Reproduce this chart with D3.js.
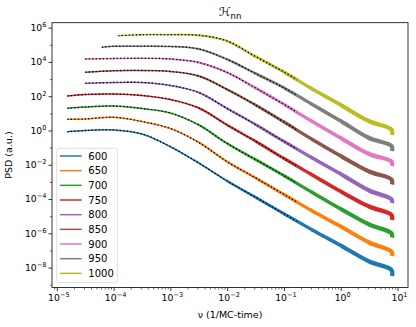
<!DOCTYPE html>
<html>
<head>
<meta charset="utf-8">
<script src="https://cdn.jsdelivr.net/npm/d3@7"></script>
<style>
body { margin: 0; background: #fff; }
text { font-family: "DejaVu Sans", sans-serif; }
</style>
</head>
<body>
<svg id="chart" width="416" height="327"></svg>
<script>
var temps = ['600', '650', '700', '750', '800', '850', '900', '950', '1000'];
var colors = ['#1f77b4', '#ff7f0e', '#2ca02c', '#d62728', '#9467bd', '#8c564b', '#e377c2', '#7f7f7f', '#bcbd22'];

// frequency grid (1/MC-time); each series starts at its own startNu, then follows the grid
var gridNu = [3.16e-5, 1e-4, 3.16e-4, 1e-3, 3.16e-3, 1e-2, 3.16e-2, 0.1, 0.316, 1, 3.16, 7.85, 8.0];
var startNu = [1.53e-5, 1.53e-5, 1.53e-5, 1.53e-5, 3.16e-5, 3.16e-5, 3.16e-5, 6.2e-5, 1.21e-4];
var fitEndNu = 0.167;

// log10 of PSD
var logPsd600  = [-0.069, 0.001, 0.030, -0.204, -0.944, -1.896, -2.946, -3.897, -4.860, -5.805, -6.709, -7.643, -8.139, -8.489];
var logPsd650  = [0.654, 0.672, 0.771, 0.526, 0.117, -0.694, -1.820, -2.765, -3.733, -4.696, -5.600, -6.534, -7.070, -7.321];
var logPsd700  = [1.296, 1.372, 1.430, 1.284, 1.022, 0.322, -0.758, -1.697, -2.636, -3.617, -4.579, -5.484, -5.997, -6.242];
var logPsd750  = [2.014, 2.101, 2.130, 2.043, 1.809, 1.313, 0.322, -0.629, -1.633, -2.596, -3.558, -4.434, -4.930, -5.221];
var logPsd800  = [2.754, 2.801, 2.801, 2.626, 2.218, 1.284, 0.351, -0.641, -1.604, -2.537, -3.500, -4.013, -4.229];
var logPsd850  = [3.396, 3.490, 3.501, 3.443, 3.180, 2.393, 1.488, 0.497, -0.524, -1.487, -2.392, -2.858, -3.150];
var logPsd900  = [4.172, 4.201, 4.213, 4.172, 3.968, 3.384, 2.480, 1.529, 0.526, -0.437, -1.370, -1.808, -2.070];
var logPsd950  = [4.855, 4.913, 4.919, 4.902, 4.756, 4.155, 3.326, 2.492, 1.518, 0.555, -0.437, -0.904, -1.195];
var logPsd1000 = [5.532, 5.590, 5.590, 5.555, 5.222, 4.312, 3.414, 2.422, 1.488, 0.537, 0.059, -0.262];
var allPsd = [logPsd600, logPsd650, logPsd700, logPsd750, logPsd800, logPsd850, logPsd900, logPsd950, logPsd1000];

var xTickExp = [-5, -4, -3, -2, -1, 0, 1];
var yTickExp = [-8, -6, -4, -2, 0, 2, 4, 6];

var L = 52, R = 408, T = 22.7, B = 287.5;
var svg = d3.select('#chart');

var x = d3.scaleLog().domain([Math.pow(10, -5.085), Math.pow(10, 1.185)]).range([L, R]);
var y = d3.scaleLog().domain([Math.pow(10, -9.16), Math.pow(10, 6.29)]).range([B, T]);

var series = allPsd.map(function (vals, i) {
  var nus = gridNu.filter(function (n) { return n > startNu[i]; });
  var pts = [[startNu[i], Math.pow(10, vals[0])]];
  nus.forEach(function (n, j) { pts.push([n, Math.pow(10, vals[j + 1])]); });
  return pts;
});

var line = d3.line()
  .x(function (d) { return x(d[0]); })
  .y(function (d) { return y(d[1]); })
  .curve(d3.curveCatmullRom.alpha(0.5));

// line gets thicker toward high frequency (dense noisy points)
var bands = [1e-6, 1e-3, 3e-3, 1e-2, 3e-2, 0.1, 0.3, 1, 3, 100];
var widths = [1.5, 1.7, 2.0, 2.4, 2.8, 3.2, 3.6, 4.0, 4.3];
var defs = svg.append('defs');
widths.forEach(function (w, k) {
  defs.append('clipPath').attr('id', 'band' + k)
    .append('rect')
    .attr('x', x(bands[k]) - 0.3)
    .attr('width', Math.max(0, Math.min(x(bands[k + 1]), 420) - x(bands[k]) + 0.6))
    .attr('y', 0).attr('height', 327);
});
defs.append('clipPath').attr('id', 'fitclip')
  .append('rect').attr('x', 0).attr('width', x(fitEndNu)).attr('y', 0).attr('height', 327);

var g = svg.append('g');
series.forEach(function (pts, i) {
  widths.forEach(function (w, k) {
    g.append('path')
      .attr('d', line(pts))
      .attr('clip-path', 'url(#band' + k + ')')
      .attr('fill', 'none')
      .attr('stroke', colors[i])
      .attr('stroke-width', w);
  });
  g.append('path')
    .attr('d', line(pts))
    .attr('clip-path', 'url(#fitclip)')
    .attr('fill', 'none')
    .attr('stroke', '#000')
    .attr('stroke-width', 1.3)
    .attr('stroke-dasharray', '1.3,2.2');
});

// axes
var xMajor = xTickExp.map(function (e) { return Math.pow(10, e); });
var xMinor = [];
for (var e = -6; e <= 1; e++) for (var m = 2; m <= 9; m++) {
  var v = m * Math.pow(10, e);
  if (v > x.domain()[0] && v < x.domain()[1]) xMinor.push(v);
}
var yMajor = yTickExp.map(function (e) { return Math.pow(10, e); });
var yMinor = [-9, -7, -5, -3, -1, 1, 3, 5].map(function (e) { return Math.pow(10, e); });

function styleAxis(sel) {
  sel.select('.domain').remove();
  sel.selectAll('line').attr('stroke', '#000').attr('stroke-width', 0.8);
  sel.selectAll('text').remove();
}
svg.append('g').attr('transform', 'translate(0,' + B + ')')
  .call(d3.axisBottom(x).tickValues(xMajor).tickSize(3.5).tickSizeOuter(0)).call(styleAxis);
svg.append('g').attr('transform', 'translate(0,' + B + ')')
  .call(d3.axisBottom(x).tickValues(xMinor).tickSize(2).tickSizeOuter(0)).call(styleAxis)
  .selectAll('line').attr('stroke-width', 0.6);
svg.append('g').attr('transform', 'translate(' + L + ',0)')
  .call(d3.axisLeft(y).tickValues(yMajor).tickSize(3.5).tickSizeOuter(0)).call(styleAxis);
svg.append('g').attr('transform', 'translate(' + L + ',0)')
  .call(d3.axisLeft(y).tickValues(yMinor).tickSize(2).tickSizeOuter(0)).call(styleAxis)
  .selectAll('line').attr('stroke-width', 0.6);

function expLabel(sel, ex) {
  sel.append('tspan').text('10');
  sel.append('tspan').attr('font-size', 6.6).attr('dy', -4)
    .text(ex < 0 ? '\u2212' + (-ex) : String(ex));
}
xTickExp.forEach(function (ex) {
  var t = svg.append('text').attr('x', x(Math.pow(10, ex)) + 2).attr('y', 301)
    .attr('text-anchor', 'middle').attr('font-size', 9.3).attr('fill', '#000');
  expLabel(t, ex);
});
yTickExp.forEach(function (ex) {
  var t = svg.append('text').attr('x', 46.5).attr('y', y(Math.pow(10, ex)) + 3.4)
    .attr('text-anchor', 'end').attr('font-size', 9.3).attr('fill', '#000');
  expLabel(t, ex);
});

// frame
svg.append('rect').attr('x', L).attr('y', T).attr('width', R - L).attr('height', B - T)
  .attr('fill', 'none').attr('stroke', '#000').attr('stroke-width', 0.8);

// labels
svg.append('text').attr('x', (L + R) / 2).attr('y', 318).attr('text-anchor', 'middle')
  .attr('font-size', 9.5).text('\u03bd (1/MC-time)');
svg.append('text').attr('transform', 'translate(12,' + ((T + B) / 2) + ') rotate(-90)')
  .attr('text-anchor', 'middle').attr('font-size', 9.5).text('PSD (a.u.)');
var title = svg.append('text').attr('x', (L + R) / 2).attr('y', 16).attr('text-anchor', 'middle')
  .attr('font-size', 12);
title.append('tspan').attr('font-style', 'italic').text('\u210b');
title.append('tspan').attr('font-size', 8.5).attr('dy', 2.5).text('nn');

// legend
var lg = svg.append('g');
lg.append('rect').attr('x', 56.7).attr('y', 148.3).attr('width', 60.6).attr('height', 134.4)
  .attr('rx', 2.5).attr('fill', '#fff').attr('fill-opacity', 0.8)
  .attr('stroke', '#d5d5d5').attr('stroke-width', 0.8);
temps.forEach(function (t, i) {
  var yy = 156 + i * 14.67;
  lg.append('line').attr('x1', 60).attr('x2', 81.7).attr('y1', yy).attr('y2', yy)
    .attr('stroke', colors[i]).attr('stroke-width', 1.5);
  lg.append('text').attr('x', 88.3).attr('y', yy + 3.6).attr('font-size', 10).text(t);
});
</script>
</body>
</html>
